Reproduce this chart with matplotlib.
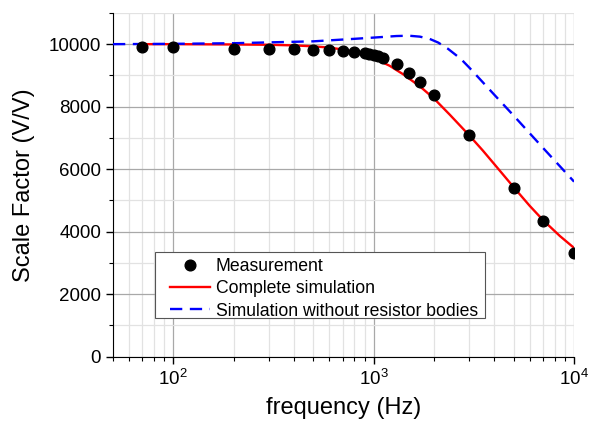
import numpy as np
import matplotlib
matplotlib.use("Agg")
import matplotlib.pyplot as plt
from matplotlib.patches import Rectangle
from matplotlib.ticker import LogLocator, MultipleLocator, NullFormatter

plt.rcParams['font.family'] = ['Liberation Sans', 'DejaVu Sans']

# measurement
meas_f = [70, 100, 200, 300, 400, 500, 600, 700, 800, 900, 950, 1000, 1050, 1110,
          1300, 1500, 1700, 2000, 3000, 5000, 7000, 10000]
meas_v = [9910, 9900, 9860, 9850, 9840, 9810, 9800, 9790, 9750, 9710, 9680, 9650, 9610, 9570,
          9360, 9090, 8800, 8360, 7080, 5390, 4350, 3310]

# complete simulation
sim_f = [70, 100, 200, 300, 400, 500, 600, 700, 800, 900, 1000, 1200, 1400, 1700,
         2000, 2400, 3000, 3500, 4000, 5000, 6000, 7000, 8500, 10000]
sim_v = [10000, 10000, 9990, 9980, 9960, 9930, 9890, 9830, 9750, 9660, 9550, 9310, 9040, 8650,
         8260, 7740, 7080, 6600, 6160, 5420, 4830, 4370, 3860, 3480]

# simulation without resistor bodies
nores_f = [50, 100, 200, 500, 800, 1000, 1300, 1500, 1700, 1900, 2100, 2350, 2720, 3000,
           4000, 5000, 7000, 10000]
nores_v = [10000, 10010, 10030, 10090, 10170, 10210, 10260, 10270, 10240, 10170, 10050, 9850,
           9530, 9250, 8380, 7710, 6680, 5600]

fig = plt.figure(figsize=(5.9, 4.3), dpi=100)
ax = fig.add_axes([0.1915, 0.1705, 0.7815, 0.7995])

ax.plot(meas_f, meas_v, 'o', color='black', markersize=7.7, label='Measurement', zorder=4)
ax.plot(sim_f, sim_v, '-', color='red', lw=1.7, label='Complete simulation', zorder=3)
ax.plot(nores_f, nores_v, '--', color='blue', lw=1.7, dashes=(5.2, 3.2),
        label='Simulation without resistor bodies', zorder=3)

ax.set_xscale('log')
ax.set_xlim(50, 10000)
ax.set_ylim(0, 11000)
ax.xaxis.set_major_locator(LogLocator(base=10, numticks=10))
ax.xaxis.set_minor_locator(LogLocator(base=10, subs=np.arange(2, 10), numticks=20))
ax.xaxis.set_minor_formatter(NullFormatter())
ax.yaxis.set_major_locator(MultipleLocator(2000))
ax.yaxis.set_minor_locator(MultipleLocator(1000))

ax.grid(which='major', color='#a8a8a8', lw=0.9)
ax.grid(which='minor', color='#e2e2e2', lw=0.9)
ax.set_axisbelow(True)

for s in ['top', 'right']:
    ax.spines[s].set_visible(False)
ax.tick_params(which='major', length=5, width=1, labelsize=13.5, direction='out')
ax.tick_params(which='minor', length=3, width=0.8, direction='out')

ax.set_xlabel('frequency (Hz)', fontsize=17, labelpad=6)
ax.set_ylabel('Scale Factor (V/V)', fontsize=17, labelpad=10)

leg = ax.legend(loc='lower left', bbox_to_anchor=(0.11, 0.090), borderaxespad=0,
                fontsize=12.7, frameon=False,
                handlelength=2.3, handletextpad=0.3, borderpad=0.35, labelspacing=0.3)

# frame drawn by hand: more room on the left, less below the last row
fig.canvas.draw()
bb = leg.get_window_extent(fig.canvas.get_renderer())
inv = fig.transFigure.inverted()
(x0, y0), (x1, y1) = inv.transform([(bb.x0 - 9, bb.y0 + 7.5), (bb.x1 + 1, bb.y1)])
ax.add_patch(Rectangle((x0, y0), x1 - x0, y1 - y0, transform=fig.transFigure,
                       facecolor='white', edgecolor='#555555', lw=0.8, zorder=4.9,
                       clip_on=False))

fig.savefig('out.png', dpi=100)
